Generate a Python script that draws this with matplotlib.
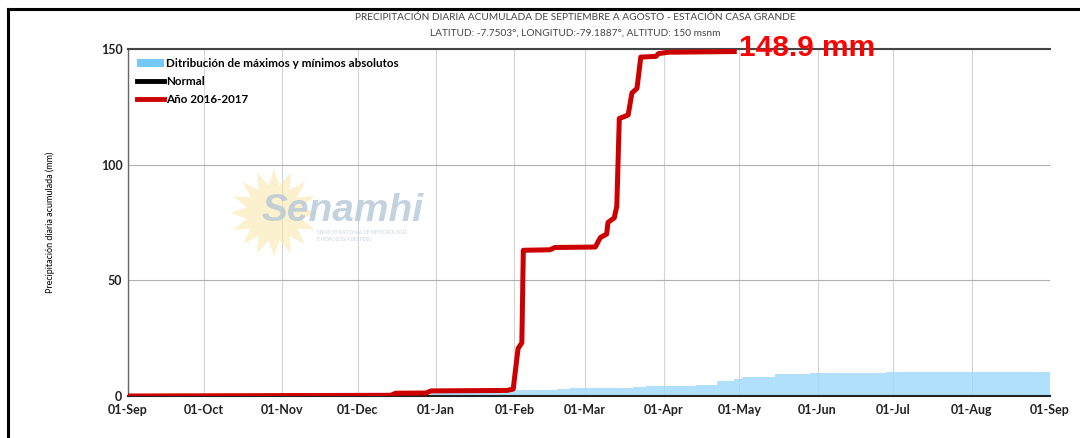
import numpy as np
import matplotlib
matplotlib.use('Agg')
import matplotlib.pyplot as plt
from matplotlib.patches import Patch, Polygon
from matplotlib.lines import Line2D

plt.rcParams['font.family'] = ['Lato', 'DejaVu Sans']

start = np.datetime64('2016-09-01')

# año 2016-2017, acumulado (dias desde 01-Sep, mm)
obs_days = [0, 104, 106, 118, 120, 150, 152.5, 154.4, 155.9, 156.5, 167, 169, 185,
            187, 189.5, 190, 192.5, 193.5, 194.5, 197, 198, 199.5, 201.5, 203, 209,
            210, 214, 241]
obs_vals = [0, 0.3, 1.2, 1.3, 2.2, 2.4, 3.0, 20.5, 23.0, 63.0, 63.2, 64.2, 64.4,
            68.5, 70.0, 75.0, 77.0, 82.0, 120.0, 121.0, 121.5, 131.0, 133.0, 146.5, 146.8,
            148.0, 148.6, 148.9]

# distribucion de maximos absolutos (dias desde 01-Sep, mm)
max_days = [0, 100, 120, 150, 155, 170, 175, 200, 205, 225, 233, 240, 243, 254, 256,
            270, 300, 365]
max_vals = [0, 0.5, 1.5, 2.5, 2.8, 3.0, 3.5, 3.8, 4.5, 4.8, 6.5, 7.3, 8.0, 8.3, 9.5,
            10.0, 10.3, 10.5]

month_ticks = ['2016-09-01', '2016-10-01', '2016-11-01', '2016-12-01', '2017-01-01',
               '2017-02-01', '2017-03-01', '2017-04-01', '2017-05-01', '2017-06-01',
               '2017-07-01', '2017-08-01', '2017-09-01']
month_labels = ['01-Sep', '01-Oct', '01-Nov', '01-Dec', '01-Jan', '01-Feb', '01-Mar',
                '01-Apr', '01-May', '01-Jun', '01-Jul', '01-Aug', '01-Sep']


def to_dates(days):
    return [start + np.timedelta64(int(round(d * 24)), 'h') for d in days]


obs_x = to_dates(obs_days)
max_x = to_dates(max_days)
ticks = [np.datetime64(t) for t in month_ticks]

fig = plt.figure(figsize=(10.8, 4.38), dpi=100)
ax = fig.add_axes([128 / 1080, 42 / 438, 922 / 1080, 347 / 438])

ax.fill_between(max_x, 0, max_vals, step='post', color='#9dd9fb', alpha=0.8, lw=0, zorder=2)
ax.plot(obs_x, obs_vals, color='#cc0000', lw=3.6, solid_capstyle='butt', zorder=4)

ax.set_xlim(ticks[0], ticks[-1])
ax.set_ylim(0, 150)
ax.set_xticks(ticks)
ax.set_xticklabels(month_labels)
ax.set_yticks([0, 50, 100, 150])
ax.tick_params(axis='both', length=0, pad=4, labelsize=9)
for lb in ax.get_xticklabels() + ax.get_yticklabels():
    lb.set_fontweight('bold')
    lb.set_color('#222222')
ax.tick_params(axis='x', pad=6)

ax.grid(True, axis='x', color='#d4d4d4', lw=0.8, zorder=0)
ax.grid(True, axis='y', color='#b0b0b0', lw=0.8, zorder=0)
ax.spines['right'].set_visible(False)
ax.spines['top'].set_color('#444444')
ax.spines['top'].set_linewidth(1.5)
ax.spines['bottom'].set_color('#222222')
ax.spines['bottom'].set_linewidth(1.5)
ax.spines['left'].set_color('#666666')
ax.spines['left'].set_linewidth(1.0)

ax.set_ylabel('Precipitación diaria acumulada (mm)', fontsize=6.5, labelpad=33)

ax.text(obs_x[-1] + np.timedelta64(1, 'D'), 150.5, '148.9 mm', color='#ff0000',
        fontsize=21.5, fontweight='bold', family='Liberation Sans', va='center', ha='left',
        zorder=6)

handles = [Patch(facecolor='#74c9f7', edgecolor='none'),
           Line2D([], [], color='black', lw=3.5),
           Line2D([], [], color='#cc0000', lw=3.5)]
leg = ax.legend(handles, ['Ditribución de máximos y mínimos absolutos', 'Normal', 'Año 2016-2017'],
                loc='upper left', bbox_to_anchor=(0.0, 1.0), frameon=False,
                prop={'size': 8.4, 'weight': 'bold'}, handlelength=2.3, handletextpad=0.2,
                labelspacing=0.6, borderaxespad=0.35)
leg.set_zorder(7)

# marca de agua senamhi
ang = np.linspace(0, 2 * np.pi, 33)
rr = np.where(np.arange(33) % 2 == 0, 44, 28)
pts = np.column_stack([(274 + rr * np.cos(ang)) / 1080, 1 - (213 + rr * np.sin(ang)) / 438])
fig.add_artist(Polygon(pts, closed=True, facecolor='#fbe7a6', edgecolor='none', alpha=0.55, zorder=1))
fig.text(262 / 1080, 1 - 211 / 438, 'Senamhi', fontsize=28, fontweight='bold', style='italic',
         color='#b5c7d8', alpha=0.8, va='center', ha='left', family='Liberation Sans', zorder=1)
fig.text(317 / 1080, 1 - 236 / 438, 'SERVICIO NACIONAL DE METEOROLOGÍA\nE HIDROLOGÍA DEL PERÚ',
         fontsize=3.3, color='#c8d3de', va='center', ha='left', linespacing=1.3, zorder=1)

fig.text(575 / 1080, 1 - 18 / 438,
         'PRECIPITACIÓN DIARIA ACUMULADA DE SEPTIEMBRE A AGOSTO - ESTACIÓN CASA GRANDE',
         fontsize=7.3, color='#444444', ha='center', va='center')
fig.text(575 / 1080, 1 - 33 / 438,
         'LATITUD: -7.7503°, LONGITUD:-79.1887°, ALTITUD: 150 msnm',
         fontsize=7.3, color='#444444', ha='center', va='center')

# marco exterior
fig.add_artist(Line2D([8 / 1080, 1], [1 - 9 / 438, 1 - 9 / 438], color='black', lw=2.2))
fig.add_artist(Line2D([8 / 1080, 8 / 1080], [0, 1 - 9 / 438], color='black', lw=2.2))

fig.savefig('out.png', dpi=100)
